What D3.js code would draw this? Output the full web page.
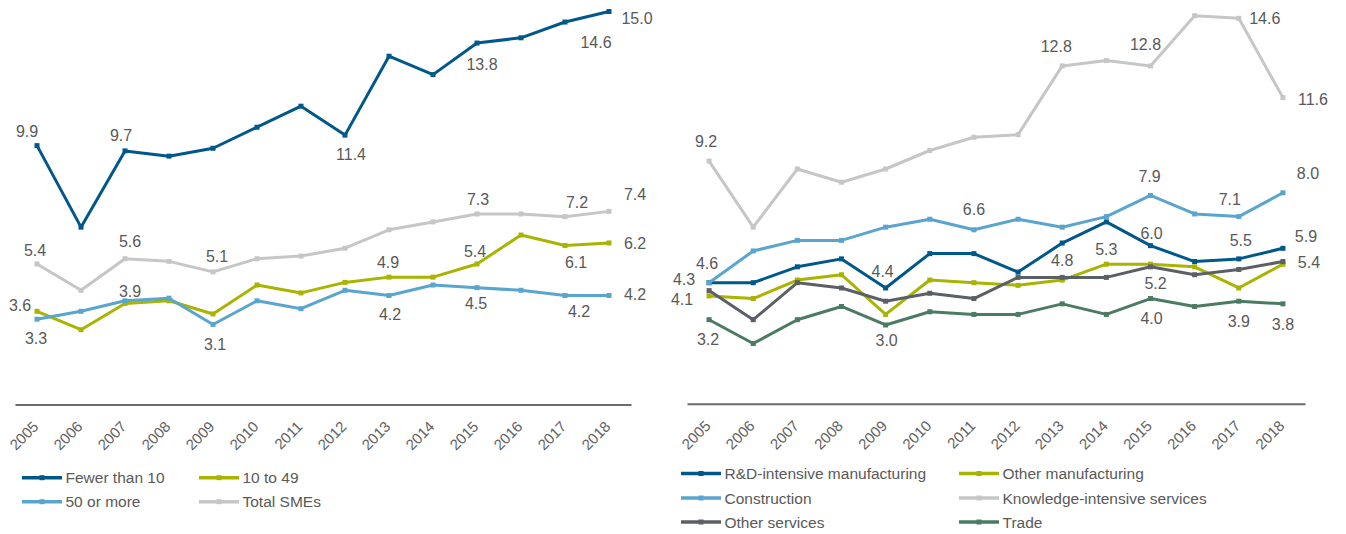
<!DOCTYPE html>
<html>
<head>
<meta charset="utf-8">
<script src="https://cdn.jsdelivr.net/npm/d3@7"></script>
<style>
  html, body { margin: 0; padding: 0; background: #ffffff; }
  svg { display: block; font-family: "Liberation Sans", Arial, sans-serif; }
</style>
</head>
<body>
<svg id="chart" width="1346" height="534"></svg>
<script>
// ---- Data -------------------------------------------------------------
const years = ["2005","2006","2007","2008","2009","2010","2011","2012","2013","2014","2015","2016","2017","2018"];

// Panel A: by firm size
const fewerThan10 = [9.9, 6.8, 9.7, 9.5, 9.8, 10.6, 11.4, 10.3, 13.3, 12.6, 13.8, 14.0, 14.6, 15.0];
const from10to49  = [3.6, 2.9, 3.9, 4.0, 3.5, 4.6, 4.3, 4.7, 4.9, 4.9, 5.4, 6.5, 6.1, 6.2];
const fiftyOrMore = [3.3, 3.6, 4.0, 4.1, 3.1, 4.0, 3.7, 4.4, 4.2, 4.6, 4.5, 4.4, 4.2, 4.2];
const totalSMEs   = [5.4, 4.4, 5.6, 5.5, 5.1, 5.6, 5.7, 6.0, 6.7, 7.0, 7.3, 7.3, 7.2, 7.4];

// Panel B: by sector
const rdManufacturing   = [4.6, 4.6, 5.2, 5.5, 4.4, 5.7, 5.7, 5.0, 6.1, 6.9, 6.0, 5.4, 5.5, 5.9];
const otherManufacturing = [4.1, 4.0, 4.7, 4.9, 3.4, 4.7, 4.6, 4.5, 4.7, 5.3, 5.3, 5.2, 4.4, 5.3];
const construction      = [4.6, 5.8, 6.2, 6.2, 6.7, 7.0, 6.6, 7.0, 6.7, 7.1, 7.9, 7.2, 7.1, 8.0];
const knowledgeServices = [9.2, 6.7, 8.9, 8.4, 8.9, 9.6, 10.1, 10.2, 12.8, 13.0, 12.8, 14.7, 14.6, 11.6];
const otherServices     = [4.3, 3.2, 4.6, 4.4, 3.9, 4.2, 4.0, 4.8, 4.8, 4.8, 5.2, 4.9, 5.1, 5.4];
const trade             = [3.2, 2.3, 3.2, 3.7, 3.0, 3.5, 3.4, 3.4, 3.8, 3.4, 4.0, 3.7, 3.9, 3.8];

// ---- Styling ----------------------------------------------------------
const TEXT = "#595959";
const TICK_TEXT = "#626262";
const C_DARK  = "#00578A";
const C_LIME  = "#A8B400";
const C_SKY   = "#5AA5CE";
const C_LGREY = "#C5C6C7";
const C_DGREY = "#5B6067";
const C_TRADE = "#4B7B63";

// Value labels: which point, and where the text sits relative to it
const labelsA = [
  { s: "Fewer than 10", year: "2005", dx: -10, dy: -14 },
  { s: "Fewer than 10", year: "2007", dx: -4,  dy: -15 },
  { s: "Fewer than 10", year: "2011", dx: 50,  dy: 48 },
  { s: "Fewer than 10", year: "2015", dx: 5,   dy: 21 },
  { s: "Fewer than 10", year: "2017", dx: 31,  dy: 20 },
  { s: "Fewer than 10", year: "2018", dx: 28,  dy: 7 },
  { s: "Total SMEs", year: "2005", dx: -2, dy: -13 },
  { s: "Total SMEs", year: "2007", dx: 5,  dy: -17 },
  { s: "Total SMEs", year: "2009", dx: 4,  dy: -15 },
  { s: "Total SMEs", year: "2015", dx: 1,  dy: -15 },
  { s: "Total SMEs", year: "2017", dx: 12, dy: -14 },
  { s: "Total SMEs", year: "2018", dx: 26, dy: -17 },
  { s: "10 to 49", year: "2005", dx: -17, dy: -6 },
  { s: "10 to 49", year: "2007", dx: 5,   dy: -12 },
  { s: "10 to 49", year: "2013", dx: -1,  dy: -15 },
  { s: "10 to 49", year: "2015", dx: -2,  dy: -12 },
  { s: "10 to 49", year: "2017", dx: 11,  dy: 17 },
  { s: "10 to 49", year: "2018", dx: 26,  dy: 1 },
  { s: "50 or more", year: "2005", dx: -1, dy: 19 },
  { s: "50 or more", year: "2009", dx: 2,  dy: 20 },
  { s: "50 or more", year: "2013", dx: 1,  dy: 19 },
  { s: "50 or more", year: "2015", dx: -1, dy: 16 },
  { s: "50 or more", year: "2017", dx: 14, dy: 16 },
  { s: "50 or more", year: "2018", dx: 26, dy: -1 }
];

const labelsB = [
  { s: "Knowledge-intensive services", year: "2005", dx: -3, dy: -20 },
  { s: "Knowledge-intensive services", year: "2013", dx: -6, dy: -19 },
  { s: "Knowledge-intensive services", year: "2015", dx: -5, dy: -21 },
  { s: "Knowledge-intensive services", year: "2017", dx: 26, dy: 0 },
  { s: "Knowledge-intensive services", year: "2018", dx: 30, dy: 2 },
  { s: "Construction", year: "2005", dx: -2, dy: -19 },
  { s: "Construction", year: "2011", dx: 0,  dy: -20 },
  { s: "Construction", year: "2015", dx: -1, dy: -19 },
  { s: "Construction", year: "2017", dx: -9, dy: -17 },
  { s: "Construction", year: "2018", dx: 25, dy: -19 },
  { s: "R&D-intensive manufacturing", year: "2009", dx: -3, dy: -16 },
  { s: "R&D-intensive manufacturing", year: "2015", dx: 1,  dy: -12 },
  { s: "R&D-intensive manufacturing", year: "2017", dx: 2,  dy: -18 },
  { s: "R&D-intensive manufacturing", year: "2018", dx: 23, dy: -12 },
  { s: "Other manufacturing", year: "2005", dx: -27, dy: 4 },
  { s: "Other manufacturing", year: "2014", dx: 0,   dy: -15 },
  { s: "Other services", year: "2005", dx: -25, dy: -11 },
  { s: "Other services", year: "2013", dx: 0,   dy: -17 },
  { s: "Other services", year: "2015", dx: 5,   dy: 17 },
  { s: "Other services", year: "2018", dx: 26,  dy: 1 },
  { s: "Trade", year: "2005", dx: -1, dy: 20 },
  { s: "Trade", year: "2009", dx: 1,  dy: 16 },
  { s: "Trade", year: "2015", dx: 1,  dy: 20 },
  { s: "Trade", year: "2017", dx: 0,  dy: 20 },
  { s: "Trade", year: "2018", dx: 0,  dy: 21 }
];

const panels = [
  {
    xRange: [15, 631], zeroY: 406, topY: -14.8, axisY: 404.5,
    series: [
      { name: "Fewer than 10", values: fewerThan10, color: C_DARK },
      { name: "10 to 49",      values: from10to49,  color: C_LIME },
      { name: "50 or more",    values: fiftyOrMore, color: C_SKY },
      { name: "Total SMEs",    values: totalSMEs,   color: C_LGREY }
    ],
    labels: labelsA,
    legend: { cols: [22, 199], rows: [477.7, 501.7],
              order: [["Fewer than 10", 0, 0], ["10 to 49", 1, 0], ["50 or more", 0, 1], ["Total SMEs", 1, 1]] }
  },
  {
    xRange: [687, 1305], zeroY: 404.3, topY: -18.7, axisY: 403.8,
    series: [
      { name: "R&D-intensive manufacturing", values: rdManufacturing,   color: C_DARK },
      { name: "Other manufacturing",         values: otherManufacturing, color: C_LIME },
      { name: "Construction",                values: construction,      color: C_SKY },
      { name: "Knowledge-intensive services", values: knowledgeServices, color: C_LGREY },
      { name: "Other services",              values: otherServices,     color: C_DGREY },
      { name: "Trade",                       values: trade,             color: C_TRADE }
    ],
    labels: labelsB,
    legend: { cols: [681, 959], rows: [473.5, 498, 522],
              order: [["R&D-intensive manufacturing", 0, 0], ["Other manufacturing", 1, 0],
                      ["Construction", 0, 1], ["Knowledge-intensive services", 1, 1],
                      ["Other services", 0, 2], ["Trade", 1, 2]] }
  }
];

// ---- Drawing ----------------------------------------------------------
const svg = d3.select("#chart");
const fmt = d3.format(".1f");

panels.forEach(p => {
  const g = svg.append("g");
  const x = d3.scalePoint().domain(years).range(p.xRange).padding(0.5);
  const y = d3.scaleLinear().domain([0, 16]).range([p.zeroY, p.topY]);

  // category axis
  const axis = g.append("g")
    .attr("transform", `translate(0,${p.axisY})`)
    .call(d3.axisBottom(x).tickSize(0).tickSizeOuter(0));
  axis.select(".domain").attr("stroke", "#6b6b6b").attr("stroke-width", 2);
  axis.selectAll(".tick text")
    .attr("x", 0).attr("y", 0).attr("dy", 0)
    .attr("text-anchor", "end")
    .attr("transform", "translate(2,23) rotate(-45)")
    .attr("fill", TICK_TEXT)
    .style("font-size", "15px")
    .style("font-weight", "normal")
    .style("font-family", '"Liberation Sans", Arial, sans-serif');

  const line = d3.line().x((d, i) => x(years[i])).y(d => y(d));

  // lines and square markers
  p.series.forEach(s => {
    const sg = g.append("g");
    sg.append("path")
      .datum(s.values)
      .attr("d", line)
      .attr("fill", "none")
      .attr("stroke", s.color)
      .attr("stroke-width", 3)
      .attr("stroke-linejoin", "round");
    sg.selectAll("rect")
      .data(s.values)
      .join("rect")
      .attr("x", (d, i) => x(years[i]) - 2.5)
      .attr("y", d => y(d) - 2.5)
      .attr("width", 5)
      .attr("height", 5)
      .attr("fill", s.color);
  });

  // value labels
  const byName = new Map(p.series.map(s => [s.name, s]));
  g.append("g").selectAll("text")
    .data(p.labels)
    .join("text")
    .attr("x", d => x(d.year) + d.dx)
    .attr("y", d => y(byName.get(d.s).values[years.indexOf(d.year)]) + d.dy)
    .attr("text-anchor", "middle")
    .attr("dominant-baseline", "central")
    .attr("fill", TEXT)
    .style("font-size", "16px")
    .text(d => fmt(byName.get(d.s).values[years.indexOf(d.year)]));

  // legend
  const lg = g.append("g");
  p.legend.order.forEach(([name, c, r]) => {
    const s = byName.get(name);
    const lx = p.legend.cols[c], ly = p.legend.rows[r];
    lg.append("line")
      .attr("x1", lx).attr("x2", lx + 40)
      .attr("y1", ly).attr("y2", ly)
      .attr("stroke", s.color).attr("stroke-width", 3.5);
    lg.append("rect")
      .attr("x", lx + 17.5).attr("y", ly - 2.5)
      .attr("width", 5).attr("height", 5)
      .attr("fill", s.color);
    lg.append("text")
      .attr("x", lx + 43.5).attr("y", ly)
      .attr("dominant-baseline", "central")
      .attr("fill", TEXT)
      .style("font-size", "15.5px")
      .text(name);
  });
});
</script>
</body>
</html>
